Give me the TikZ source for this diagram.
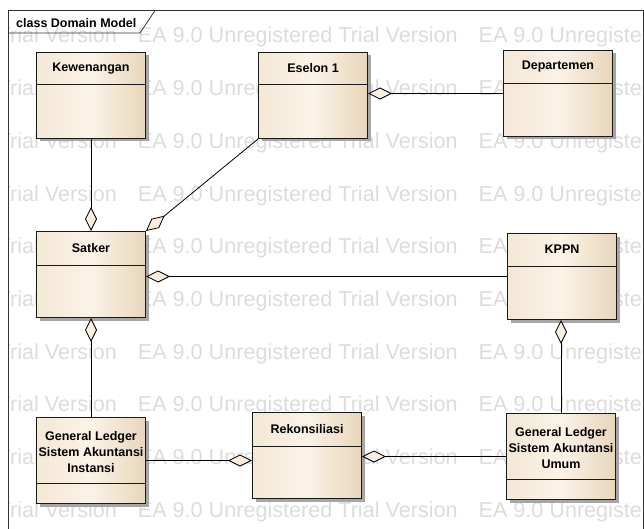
\documentclass[tikz,border=0pt]{standalone}
\usepackage{fontspec}
\setmainfont{Liberation Sans}
\usetikzlibrary{arrows.meta,shadows,calc}
\definecolor{boxleft}{HTML}{F4E8D6}
\definecolor{boxmid}{HTML}{FBF3E7}
\definecolor{boxright}{HTML}{E8D6BB}
\definecolor{diafill}{HTML}{FAEFDF}
\definecolor{wmark}{HTML}{DCDCDC}
\begin{document}
\begin{tikzpicture}[x=1pt, y=-1pt,
        cls/.style = {draw=black!90, line width=1pt, left color=boxleft, right color=boxright, middle color=boxmid,
            minimum width=109pt, minimum height=86pt, anchor=north west, inner sep=0pt,
            drop shadow={shadow xshift=3pt, shadow yshift=-3pt, fill=black!35, opacity=1}},
        title/.style = {font=\bfseries\fontsize{12.5}{16}\selectfont, align=center, inner sep=0pt},
        divider/.style = {draw=black!90, line width=1pt},
        agg/.style = {line width=0.8pt, -{Diamond[length=24pt, width=12pt, fill=diafill, line width=0.8pt]}},
        wm/.style = {font=\fontsize{21.6}{24}\selectfont, text=wmark, anchor=base west, inner sep=0pt}]
        \useasboundingbox (0, 0) rectangle (644, 529);
        \begin{scope}
            \clip (9, 11) rectangle (643, 529);
            \foreach \r in {0,...,9}
                \node[wm] (wm\r) at (-203, 43 + 52.7*\r) {EA 9.0 Unregistered Trial Version\hspace{21pt}EA 9.0 Unregistered Trial Version\hspace{21pt}EA 9.0 Unregistered Trial Version};
        \end{scope}
        \draw[line width=1pt, black!80] (8.5, 529) -- (8.5, 10.5) -- (643, 10.5) -- (643, 529);
        \draw[line width=0.8pt, black!80] (8.5, 33) -- (140, 33) -- (155, 10.5);
        \node[anchor=base west, inner sep=0pt, font=\bfseries\fontsize{12.5}{15}\selectfont] (framelabel) at (16, 27.5) {class Domain Model};

        \node[cls] (kewenangan) at (36, 52) {};
        \node[title] at ($(kewenangan.north) + (0, 16.5)$) {Kewenangan};
        \draw[divider] ($(kewenangan.north west) + (0, 33)$) -- ($(kewenangan.north east) + (0, 33)$);

        \node[cls] (eselon) at (258, 52) {};
        \node[title] at ($(eselon.north) + (0, 16.5)$) {Eselon 1};
        \draw[divider] ($(eselon.north west) + (0, 33)$) -- ($(eselon.north east) + (0, 33)$);

        \node[cls] (departemen) at (503, 50) {};
        \node[title] at ($(departemen.north) + (0, 17)$) {Departemen};
        \draw[divider] ($(departemen.north west) + (0, 34)$) -- ($(departemen.north east) + (0, 34)$);

        \node[cls] (satker) at (36, 231) {};
        \node[title] at ($(satker.north) + (0, 17)$) {Satker};
        \draw[divider] ($(satker.north west) + (0, 34)$) -- ($(satker.north east) + (0, 34)$);

        \node[cls] (kppn) at (507, 233) {};
        \node[title] at ($(kppn.north) + (0, 16.5)$) {KPPN};
        \draw[divider] ($(kppn.north west) + (0, 33)$) -- ($(kppn.north east) + (0, 33)$);

        \node[cls] (glsai) at (36, 417) {};
        \node[title] at ($(glsai.north) + (0, 35)$) {General Ledger\\Sistem Akuntansi\\Instansi};
        \draw[divider] ($(glsai.north west) + (0, 66)$) -- ($(glsai.north east) + (0, 66)$);

        \node[cls] (rekon) at (252, 412) {};
        \node[title] at ($(rekon.north) + (0, 17)$) {Rekonsiliasi};
        \draw[divider] ($(rekon.north west) + (0, 34)$) -- ($(rekon.north east) + (0, 34)$);

        \node[cls] (glsau) at (506, 413) {};
        \node[title] at ($(glsau.north) + (0, 35)$) {General Ledger\\Sistem Akuntansi\\Umum};
        \draw[divider] ($(glsau.north west) + (0, 66)$) -- ($(glsau.north east) + (0, 66)$);

        \draw[agg] (kewenangan.south) -- (kewenangan.south |- satker.north);
        \draw[agg] (eselon.south west) -- (satker.north east);
        \draw[agg] (departemen.west) -- (departemen.west -| eselon.east);
        \draw[agg] (kppn.west) -- (kppn.west -| satker.east);
        \draw[agg] (glsai.north) -- (glsai.north |- satker.south);
        \draw[agg] (glsau.north) -- (glsau.north |- kppn.south);
        \draw[agg] (glsai.east) -- (glsai.east -| rekon.west);
        \draw[agg] (glsau.west) -- (glsau.west -| rekon.east);
    \end{tikzpicture}
\end{document}
